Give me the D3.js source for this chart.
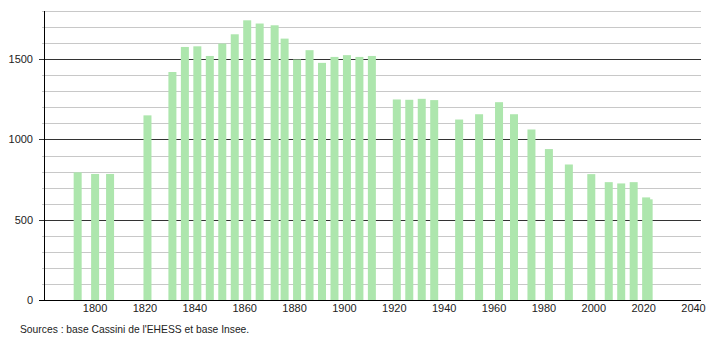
<!DOCTYPE html>
<html>
<head>
<meta charset="utf-8">
<script src="https://cdn.jsdelivr.net/npm/d3@7"></script>
<style>
  body { margin: 0; background: #fff; }
  svg text { font-family: "Liberation Sans", Arial, sans-serif; fill: #222; }
</style>
</head>
<body>
<svg id="chart" width="710" height="340"></svg>
<script>
// census years and population
const years = [1793, 1800, 1806, 1821, 1831, 1836, 1841, 1846, 1851, 1856, 1861, 1866, 1872, 1876,
  1881, 1886, 1891, 1896, 1901, 1906, 1911, 1921, 1926, 1931, 1936, 1946, 1954, 1962, 1968,
  1975, 1982, 1990, 1999, 2006, 2011, 2016, 2021, 2022];
const population = [795, 785, 785, 1150, 1420, 1576, 1580, 1520, 1597, 1655, 1742, 1722, 1711, 1628,
  1498, 1556, 1477, 1514, 1525, 1514, 1520, 1249, 1247, 1253, 1245, 1124, 1157, 1232, 1157,
  1062, 940, 844, 784, 734, 726, 734, 639, 627];

const xTicks = [1800, 1820, 1840, 1860, 1880, 1900, 1920, 1940, 1960, 1980, 2000, 2020, 2040];
const yMajor = [0, 500, 1000, 1500];
const yMinor = d3.range(100, 1900, 100);
const source = "Sources : base Cassini de l'EHESS et base Insee.";

const svg = d3.select("#chart");

const x = d3.scaleLinear().domain([1779.5, 2043]).range([44, 701]);
const y = d3.scaleLinear().domain([0, 1800]).range([300, 11]);
const barWidth = 8;

// gridlines, light every 100, dark every 500
svg.append("g")
  .selectAll("line")
  .data(yMinor.filter(v => v % 500 !== 0))
  .enter()
  .append("line")
  .attr("x1", 44 - 2)
  .attr("x2", 701)
  .attr("y1", d => Math.round(y(d)) + 0.5)
  .attr("y2", d => Math.round(y(d)) + 0.5)
  .attr("stroke", "#c8c8c8")
  .attr("stroke-width", 1);

svg.append("g")
  .selectAll("line")
  .data(yMajor.filter(v => v > 0))
  .enter()
  .append("line")
  .attr("x1", 44 - 5)
  .attr("x2", 701)
  .attr("y1", d => Math.round(y(d)) + 0.5)
  .attr("y2", d => Math.round(y(d)) + 0.5)
  .attr("stroke", "#333")
  .attr("stroke-width", 1);

// bars
svg.append("g")
  .selectAll("rect")
  .data(years)
  .enter()
  .append("rect")
  .attr("x", d => x(d) - barWidth / 2)
  .attr("y", (d, i) => y(population[i]))
  .attr("width", barWidth)
  .attr("height", (d, i) => y(0) - y(population[i]))
  .attr("fill", "#ade6ad");

// y axis labels
svg.append("g")
  .selectAll("text")
  .data(yMajor)
  .enter()
  .append("text")
  .attr("x", 33)
  .attr("y", d => y(d) + 4)
  .attr("text-anchor", "end")
  .attr("font-size", 11)
  .text(d => d);

// axes lines
svg.append("line")
  .attr("x1", 44.5).attr("x2", 44.5)
  .attr("y1", y(1800)).attr("y2", 300.5)
  .attr("stroke", "#000");

svg.append("line")
  .attr("x1", 39).attr("x2", 701)
  .attr("y1", 300.5).attr("y2", 300.5)
  .attr("stroke", "#000");

// x axis labels
svg.append("g")
  .selectAll("text")
  .data(xTicks)
  .enter()
  .append("text")
  .attr("x", d => x(d))
  .attr("y", 312)
  .attr("text-anchor", "middle")
  .attr("font-size", 11)
  .text(d => d);

svg.append("text")
  .attr("x", 20)
  .attr("y", 333)
  .attr("font-size", 10.3)
  .text(source);
</script>
</body>
</html>
